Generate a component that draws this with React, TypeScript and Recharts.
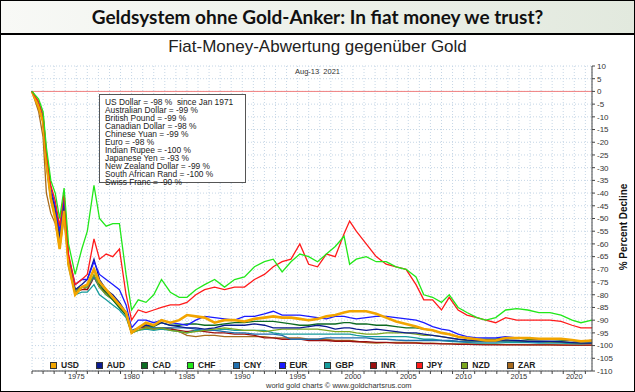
import { LineChart, Line, XAxis, YAxis, CartesianGrid, ReferenceLine } from "recharts";

const years = [
  1971.0, 1971.6, 1972.0, 1972.3, 1972.7, 1973.1, 1973.5, 1973.9, 1974.3, 1974.9,
  1975.5, 1976.0, 1976.6, 1977.1, 1977.7, 1978.3, 1978.9, 1979.5, 1980.0, 1980.6,
  1981.3, 1982.0, 1982.7, 1983.5, 1984.3, 1985.0, 1985.8, 1986.6, 1987.5, 1988.4,
  1989.3, 1990.2, 1991.1, 1992.0, 1992.8, 1993.6, 1994.4, 1995.2, 1996.0, 1996.8,
  1997.6, 1998.4, 1999.2, 1999.7, 2000.3, 2001.2, 2002.1, 2003.0, 2003.9, 2004.8,
  2005.7, 2006.4, 2007.2, 2008.0, 2008.7, 2009.5, 2010.3, 2011.2, 2012.0, 2012.9,
  2013.8, 2014.8, 2015.8, 2016.8, 2017.8, 2018.8, 2019.8, 2020.6, 2021.6,
];

const usd = [
  0, -6, -12, -28, -42, -50, -62, -47, -68, -80,
  -77, -76, -70, -75, -78, -81, -84, -87, -95, -93,
  -91, -92, -90, -91, -90, -88, -88.5, -89, -91, -90,
  -90, -90.5, -89.5, -89, -88.5, -89, -89, -89.5, -90, -89.5,
  -88.5, -88, -87, -86.5, -86.5, -86.5, -87.5, -89, -90.5, -91.5,
  -92.5, -93.5, -94, -95, -95.5, -96.5, -97, -97.5, -98, -98,
  -97, -97, -97, -97.3, -97.3, -97.3, -97.8, -98.3, -98,
];
const aud = [
  0, -6, -12, -27, -40, -46, -58, -42, -66, -78,
  -76, -74, -66, -74, -78, -80, -83, -87, -95, -93,
  -92, -92, -91, -92, -92.5, -93, -93, -93.5, -93, -92,
  -92, -92, -91.5, -92, -93, -93, -93, -93, -92.5, -92,
  -92.5, -93.5, -93, -93, -93.5, -94, -93.5, -94, -94.5, -95,
  -95, -95.5, -96, -96.5, -97, -97.5, -97.8, -98, -98, -98,
  -97.8, -98, -98.3, -98.3, -98.3, -98.5, -98.8, -99, -99,
];
const cad = [
  0, -6, -12, -28, -42, -49, -60, -46, -68, -79,
  -77, -76, -70, -76, -79, -82, -85, -88, -95, -93,
  -92, -92.5, -91, -92, -92, -91.5, -91.5, -92, -92, -91.5,
  -91, -91, -90.5, -90.5, -90.5, -91, -91.5, -92, -92, -91.5,
  -91.5, -91.5, -91, -91, -91.5, -91.5, -92, -92, -92.5, -93,
  -93, -93.5, -94, -95, -95.5, -96.5, -97, -97.5, -97.5, -97.5,
  -97, -97, -97.5, -97.5, -97.5, -97.8, -98, -98.3, -98,
];
const chf = [
  0, -3, -8, -22, -35, -40, -50, -38, -60, -72,
  -62, -55, -37, -50, -53, -52, -52, -72, -86, -82,
  -83, -80, -74, -79, -81, -81, -78, -76, -74, -77,
  -74, -73, -69, -67, -66, -71, -67, -64, -65, -67,
  -64, -61, -57, -68, -66, -65, -67, -67, -69, -70,
  -73, -80, -81, -83, -80, -85, -87, -89, -90, -89,
  -86, -85.5, -86, -87, -87, -88, -90, -91, -90,
];
const cny = [
  0, -5, -11, -26, -40, -46, -56, -43, -66, -78,
  -77, -77, -73, -77, -80, -82, -85, -88, -94, -93,
  -92, -93, -93, -93, -93, -93, -93.5, -94, -94, -94.5,
  -95, -95, -95.5, -95.5, -95.5, -96, -97.5, -97.5, -97.5, -97.5,
  -97, -97, -97, -97, -97, -97, -97.5, -97.5, -97.8, -98,
  -98, -98, -98, -98, -98, -98.3, -98.5, -98.5, -98.5, -98.5,
  -98.3, -98.3, -98.5, -98.7, -98.7, -98.7, -98.8, -99, -99,
];
const eur = [
  0, -5, -10, -25, -38, -45, -55, -42, -65, -76,
  -74, -74, -67, -72, -74, -76, -78, -84, -93, -90,
  -90, -91, -90, -91, -91.5, -92, -90, -88.5, -89, -89.5,
  -90, -88.5, -88.5, -87.5, -86.5, -88, -88, -88, -88.5, -89,
  -89.5, -88.5, -88.5, -89, -89.5, -89, -88.5, -88.5, -89, -89.5,
  -90, -91, -92.5, -93.5, -94, -95.5, -96.5, -97, -97, -97,
  -96.5, -97, -97, -97.5, -97.5, -97.5, -98, -98.3, -98,
];
const gbp = [
  0, -6, -12, -29, -43, -50, -61, -48, -69, -80,
  -79, -79, -76, -80, -82, -84, -86, -89, -95, -94,
  -93.5, -94, -93.5, -94, -94.5, -95, -94, -94, -94, -93.5,
  -94, -94, -94, -94, -95, -95.5, -95.5, -95.5, -95.5, -95.5,
  -95.5, -95.5, -95.5, -95.5, -96, -96.5, -96.5, -96.5, -96.5, -96.5,
  -97, -97.5, -97.5, -98, -98.3, -98.5, -98.7, -99, -99, -99,
  -98.8, -98.8, -98.8, -99, -99, -99, -99.2, -99.3, -99,
];
const inr = [
  0, -6, -12, -28, -42, -49, -60, -46, -68, -79,
  -78, -78, -73, -77, -79, -81, -84, -87, -95, -93,
  -93, -93.5, -93, -93.5, -94, -94.5, -94, -94.5, -95, -95,
  -95.5, -95.5, -96, -97, -97, -97.5, -97.5, -97.5, -98, -98,
  -98, -98.3, -98.3, -98.3, -98.5, -98.5, -98.7, -98.7, -99, -99,
  -99, -99.2, -99.2, -99.3, -99.3, -99.5, -99.5, -99.6, -99.7, -99.7,
  -99.7, -99.7, -99.7, -99.7, -99.7, -99.8, -99.8, -99.8, -99.8,
];
const jpy = [
  0, -4, -9, -24, -37, -43, -53, -40, -64, -76,
  -74, -72, -58, -66, -64, -65, -62, -80, -90, -86,
  -87, -86, -85, -84, -84, -83, -80, -78, -77, -78,
  -77, -77, -74, -72, -69, -67, -66, -60, -68, -69,
  -64, -65, -56, -51, -55, -60, -65, -68, -69, -70,
  -76, -82, -82, -86, -81, -86, -88, -89, -90, -91,
  -89, -90, -90, -90, -90, -90.5, -92, -93, -93,
];
const nzd = [
  0, -6, -12, -28, -41, -47, -58, -44, -67, -78,
  -77, -77, -72, -77, -80, -82, -85, -88, -95, -94,
  -93, -93.5, -93, -94, -94.5, -95, -94.5, -94, -93.5, -93,
  -93.5, -94, -94, -94.5, -94, -93.5, -93.5, -93.5, -93.5, -93.5,
  -94, -94.5, -94.5, -94.5, -95, -95.5, -95.5, -95, -95, -95,
  -95.5, -96, -96, -96.5, -97, -97.5, -98, -98, -98, -98,
  -98, -98, -98.3, -98.3, -98.5, -98.5, -98.8, -99, -99,
];
const zar = [
  0, -8, -18, -40, -48, -52, -62, -50, -68, -78,
  -77, -78, -73, -77, -79, -81, -84, -87, -95, -93,
  -92.5, -93, -93, -93, -94.5, -96, -96.5, -96, -96, -96.5,
  -96.5, -96.5, -96.5, -96.5, -97, -97, -97, -97, -97.5, -97.5,
  -97.5, -98, -98, -98, -98.3, -98.8, -99, -98.8, -98.7, -98.7,
  -98.8, -99, -99, -99.2, -99.3, -99.3, -99.3, -99.4, -99.5, -99.5,
  -99.6, -99.6, -99.7, -99.7, -99.7, -99.7, -99.8, -99.8, -99.8,
];

const summary = [
  "US Dollar = -98 %  since Jan 1971",
  "Australian Dollar = -99 %",
  "British Pound = -99 %",
  "Canadian Dollar = -98 %",
  "Chinese Yuan = -99 %",
  "Euro = -98 %",
  "Indian Rupee = -100 %",
  "Japanese Yen = -93 %",
  "New Zealand Dollar = -99 %",
  "South African Rand = -100 %",
  "Swiss Franc = -90 %",
];

const yTicks = [10, 5, 0, -5, -10, -15, -20, -25, -30, -35, -40, -45, -50, -55, -60, -65, -70, -75, -80, -85, -90, -95, -100, -105, -110];
const xTicks = Array.from({ length: 51 }, (_, i) => 1971 + i);

// legend order
const series = [
  { key: "USD", values: usd, color: "#f2a500", width: 2.6 },
  { key: "AUD", values: aud, color: "#0b1a8f", width: 1.3 },
  { key: "CAD", values: cad, color: "#0d6a22", width: 1.3 },
  { key: "CHF", values: chf, color: "#22e81a", width: 1.3 },
  { key: "CNY", values: cny, color: "#1f6fae", width: 1.3 },
  { key: "EUR", values: eur, color: "#1a1aff", width: 1.3 },
  { key: "GBP", values: gbp, color: "#179c9c", width: 1.3 },
  { key: "INR", values: inr, color: "#9b1010", width: 1.3 },
  { key: "JPY", values: jpy, color: "#ff1a1a", width: 1.3 },
  { key: "NZD", values: nzd, color: "#7aa51e", width: 1.3 },
  { key: "ZAR", values: zar, color: "#a86a1c", width: 1.3 },
];
// drawing order (bottom first)
const drawOrder = ["ZAR", "INR", "GBP", "CNY", "NZD", "CAD", "AUD", "EUR", "USD", "JPY", "CHF"];

const data = years.map((year, i) => {
  const row: Record<string, number> = { year };
  series.forEach((s) => (row[s.key] = s.values[i]));
  return row;
});

const XTick = ({ x, y, payload }: any) =>
  payload.value % 5 === 0 ? (
    <text x={x} y={y + 3} textAnchor="middle" fontSize={7.5} fill="#333" fontFamily="Liberation Sans, Arial">
      {payload.value}
    </text>
  ) : (
    <g />
  );

export default function App() {
  const font = "Liberation Sans, Arial, sans-serif";
  return (
    <div
      style={{
        position: "absolute",
        left: 0,
        top: 0,
        width: 635,
        height: 392,
        background: "#fff",
        boxSizing: "border-box",
        border: "1px solid #000",
        overflow: "hidden",
      }}
    >
      {/* title bar */}
      <div
        style={{
          height: 32,
          borderBottom: "2px solid #000",
          background: "linear-gradient(to right, #f8f9f6, #e2e9de)",
          textAlign: "center",
          fontFamily: "Lato, sans-serif",
          fontWeight: 700,
          fontSize: 19,
          lineHeight: "32px",
          color: "#111",
        }}
      >
        Geldsystem ohne Gold-Anker: In fiat money we trust?
      </div>

      <div style={{ position: "absolute", left: 0, top: 36, width: 633, textAlign: "center", fontFamily: font, fontSize: 17, color: "#222" }}>
        Fiat-Money-Abwertung gegenüber Gold
      </div>

      <div style={{ position: "absolute", left: -1, top: 33 }}>
        <LineChart width={635} height={358} data={data} margin={{ top: 32, right: 0, bottom: 0, left: 32 }}>
          <CartesianGrid stroke="#c5d6e6" strokeDasharray="1 2" />
          <XAxis
            dataKey="year"
            type="number"
            domain={[1971, 2021.6]}
            ticks={xTicks}
            interval={0}
            height={21}
            tick={XTick}
            tickSize={3}
            stroke="#444"
          />
          <XAxis xAxisId="top" dataKey="year" type="number" domain={[1971, 2021.6]} orientation="top" height={0} tick={false} tickLine={false} stroke="#888" />
          <YAxis
            orientation="right"
            type="number"
            domain={[-110, 10]}
            ticks={yTicks}
            interval={0}
            width={43}
            tickSize={3}
            stroke="#444"
            tick={{ fontSize: 8, fill: "#333", fontFamily: font, textAnchor: "start" }}
          />
          <YAxis yAxisId="left" orientation="left" domain={[-110, 10]} width={0} tick={false} tickLine={false} stroke="#444" />
          <ReferenceLine y={0} stroke="#f08080" strokeWidth={1} />
          {drawOrder.map((k) => {
            const s = series.find((d) => d.key === k)!;
            return (
              <Line
                key={k}
                dataKey={k}
                stroke={s.color}
                strokeWidth={s.width}
                dot={false}
                type="linear"
                isAnimationActive={false}
              />
            );
          })}
        </LineChart>
      </div>

      <div style={{ position: "absolute", left: 0, top: 66, width: 633, textAlign: "center", fontFamily: font, fontSize: 7.5, color: "#333", whiteSpace: "pre" }}>
        {"Aug-13  2021"}
      </div>

      {/* summary box */}
      <div
        style={{
          position: "absolute",
          left: 98,
          top: 93,
          width: 147,
          height: 89,
          border: "1px solid #555",
          background: "#fff",
          fontFamily: font,
          fontSize: 8.4,
          lineHeight: "7.95px",
          color: "#222",
          padding: "4px 0 0 5px",
          boxSizing: "border-box",
          whiteSpace: "pre",
        }}
      >
        {summary.map((t) => (
          <div key={t}>{t}</div>
        ))}
      </div>

      {/* legend */}
      {series.map((s, i) => (
        <div
          key={s.key}
          style={{
            position: "absolute",
            left: 49 + i * 45.7,
            top: 359,
            display: "flex",
            alignItems: "center",
            fontFamily: font,
            fontSize: 8.5,
            fontWeight: 700,
            color: "#222",
          }}
        >
          <span style={{ width: 5, height: 5, background: s.color, border: "1px solid #333", marginRight: 4 }} />
          {s.key}
        </div>
      ))}

      <div style={{ position: "absolute", left: 265, top: 381, fontFamily: font, fontSize: 7.5, lineHeight: "8px", color: "#333", whiteSpace: "nowrap" }}>
        world gold charts © www.goldchartsrus.com
      </div>

      <div
        style={{
          position: "absolute",
          left: 622,
          top: 226,
          transform: "translate(-50%, -50%) rotate(-90deg)",
          fontFamily: font,
          fontSize: 10,
          fontWeight: 700,
          whiteSpace: "nowrap",
          color: "#111",
        }}
      >
        % Percent Decline
      </div>
    </div>
  );
}
